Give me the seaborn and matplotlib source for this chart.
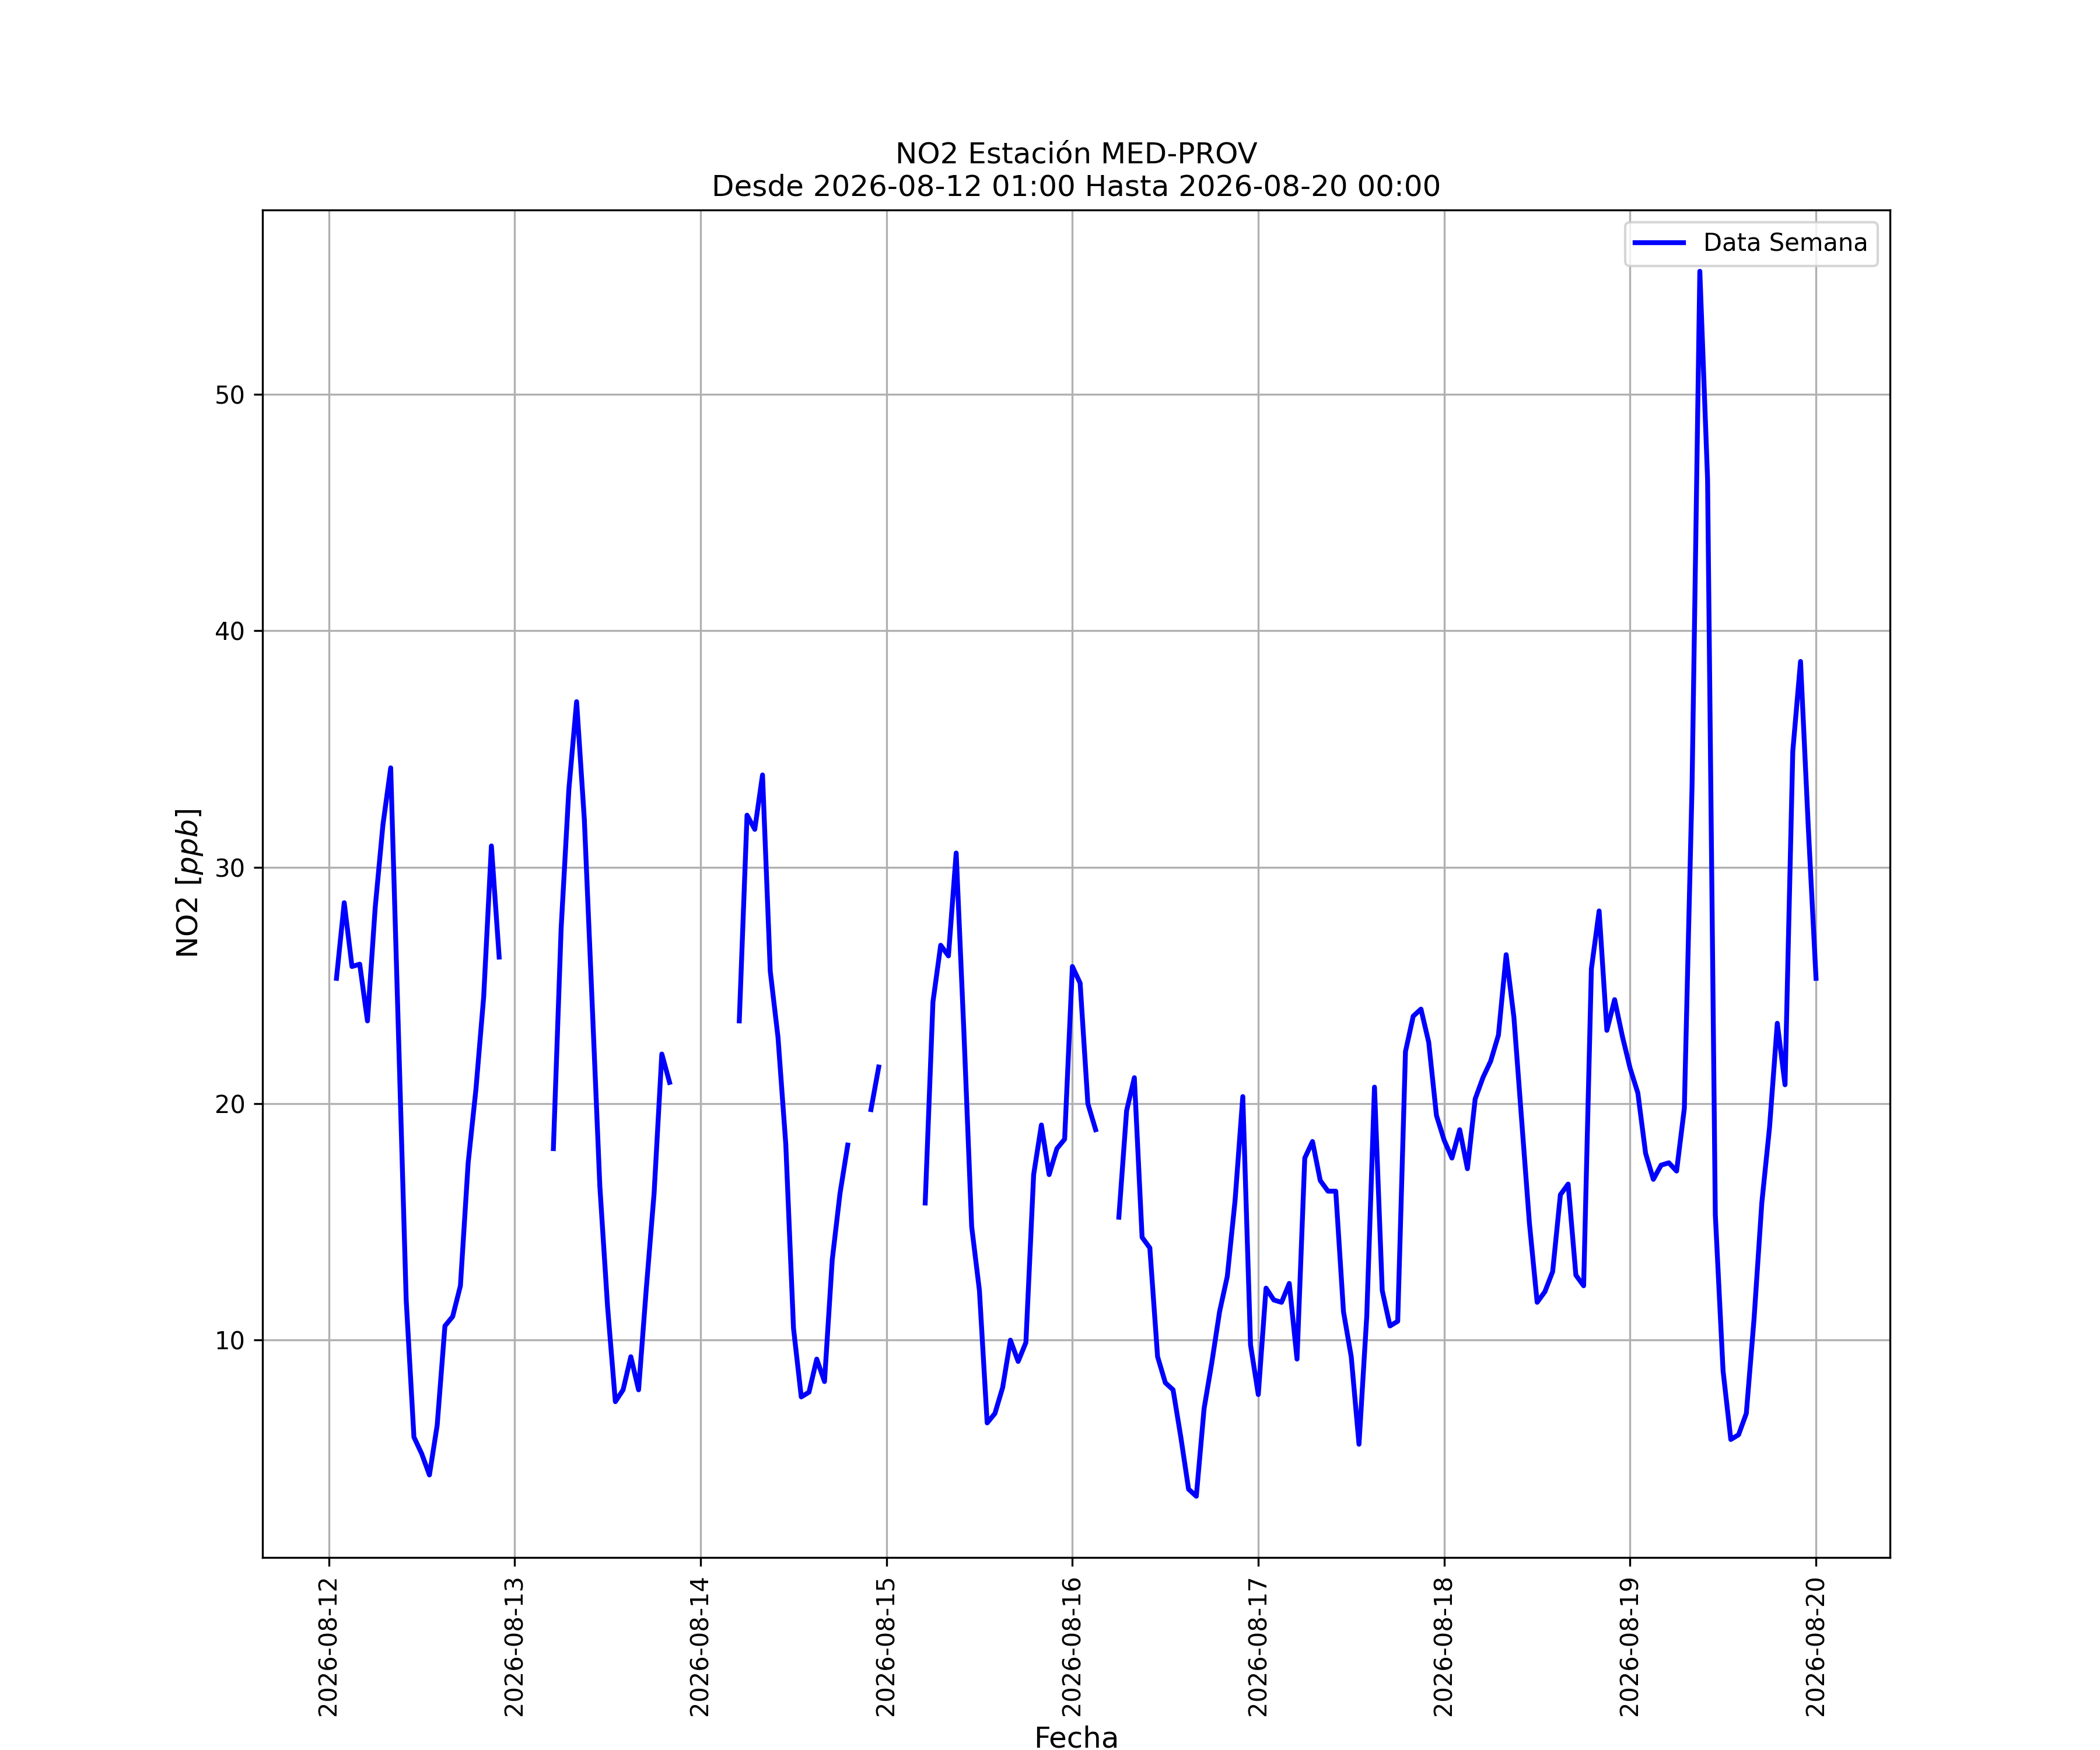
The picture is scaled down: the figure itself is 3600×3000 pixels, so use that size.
import numpy as np
import pandas as pd
import matplotlib
matplotlib.use('Agg')
import matplotlib.pyplot as plt
import matplotlib.dates as mdates
import seaborn as sns

nan = np.nan

# NO2 hourly values [ppb], each list runs 01:00 of the day to 00:00 of the next
dia_12 = [25.3, 28.5, 25.8, 25.9, 23.5, 28.3, 31.8, 34.2, 23.0, 11.7, 5.9, 5.2,
          4.3, 6.4, 10.6, 11.0, 12.3, 17.5, 20.6, 24.5, 30.9, 26.2, nan, nan]
dia_13 = [nan, nan, nan, nan, 18.1, 27.4, 33.3, 37.0, 32.0, 24.3, 16.5, 11.4,
          7.4, 7.9, 9.3, 7.9, 12.2, 16.2, 22.1, 20.9, nan, nan, nan, nan]
dia_14 = [nan, nan, nan, nan, 23.5, 32.2, 31.6, 33.9, 25.6, 22.8, 18.3, 10.5,
          7.6, 7.8, 9.2, 8.25, 13.4, 16.2, 18.25, nan, nan, 19.75, 21.55, nan]
dia_15 = [nan, nan, nan, nan, 15.8, 24.3, 26.7, 26.25, 30.6, 23.0, 14.8, 12.1,
          6.5, 6.9, 8.0, 10.0, 9.1, 9.9, 17.0, 19.1, 17.0, 18.1, 18.5, 25.8]
dia_16 = [25.1, 20.0, 18.9, nan, nan, 15.2, 19.7, 21.1, 14.35, 13.9, 9.3, 8.2,
          7.9, 5.9, 3.7, 3.4, 7.1, 9.05, 11.2, 12.7, 15.9, 20.3, 9.8, 7.7]
dia_17 = [12.2, 11.7, 11.6, 12.4, 9.2, 17.7, 18.4, 16.75, 16.3, 16.3, 11.2, 9.3,
          5.6, 11.0, 20.7, 12.1, 10.6, 10.8, 22.2, 23.7, 24.0, 22.6, 19.5, 18.45]
dia_18 = [17.7, 18.9, 17.25, 20.2, 21.1, 21.8, 22.9, 26.3, 23.65, 19.3, 14.95, 11.6,
          12.05, 12.9, 16.15, 16.6, 12.75, 12.3, 25.7, 28.15, 23.1, 24.4, 22.85, 21.5]
dia_19 = [20.45, 17.9, 16.8, 17.4, 17.5, 17.15, 19.8, 33.5, 55.2, 46.4, 15.3, 8.7,
          5.8, 6.0, 6.9, 10.9, 15.8, 19.0, 23.4, 20.8, 34.9, 38.7, 31.7, 25.3]

inicio = '2026-08-12 01:00'
fin = '2026-08-20 00:00'
estacion = 'MED-PROV'

valores = dia_12 + dia_13 + dia_14 + dia_15 + dia_16 + dia_17 + dia_18 + dia_19
fechas = pd.date_range(start=inicio, periods=len(valores), freq='h')

df = pd.DataFrame({'Fecha': fechas, 'NO2': valores})
# segment id so the gaps (missing hours) stay as gaps
df['seg'] = df['NO2'].isna().cumsum()
df = df.dropna()

plt.rcParams['font.family'] = ['DejaVu Sans']

fig = plt.figure(figsize=(12, 10), dpi=300)
ax = fig.add_subplot(111)

first = True
for s, d in df.groupby('seg'):
    sns.lineplot(x='Fecha', y='NO2', data=d, color='blue', linewidth=2,
                 label='Data Semana' if first else None, ax=ax, legend=False)
    first = False

ax.xaxis.set_major_locator(mdates.DayLocator())
ax.xaxis.set_major_formatter(mdates.DateFormatter('%Y-%m-%d'))
plt.setp(ax.get_xticklabels(), rotation=90, fontsize=10)
plt.setp(ax.get_yticklabels(), fontsize=10)

ax.set_title('NO2 Estación ' + estacion + '\nDesde ' + inicio + ' Hasta ' + fin, fontsize=12)
ax.set_xlabel('Fecha', fontsize=12)
ax.set_ylabel('NO2 [$ppb$]', fontsize=12)
ax.grid(True)
ax.legend(loc='upper right', fontsize=10)

plt.savefig('out.png', dpi=300)
